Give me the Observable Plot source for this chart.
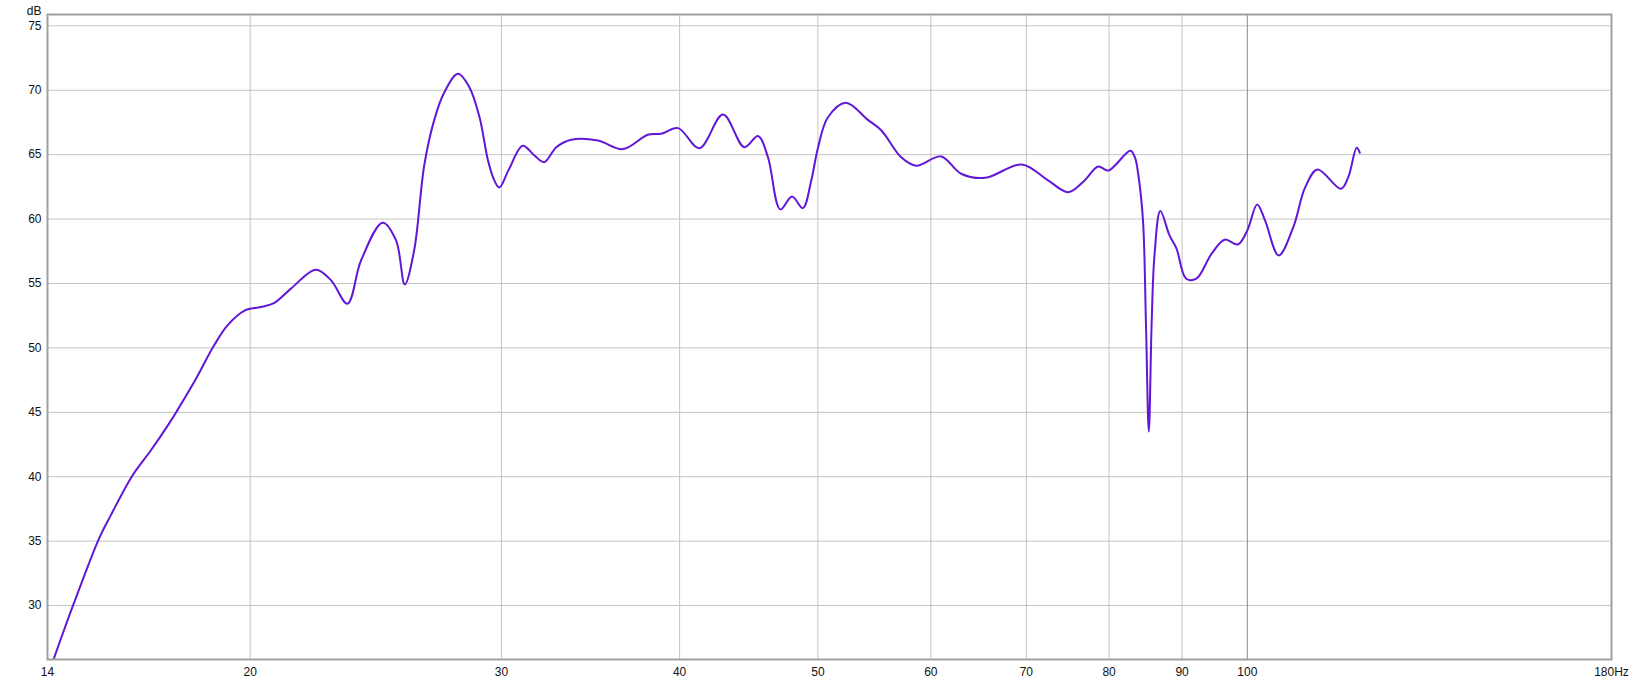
<!DOCTYPE html>
<html><head><meta charset="utf-8">
<script src="https://cdn.jsdelivr.net/npm/d3@7"></script>
<script src="https://cdn.jsdelivr.net/npm/@observablehq/plot@0.6"></script>
<style>body{margin:0;background:#fff;} svg{display:block;}</style>
</head><body><div id="chart"></div>
<script>
const freqHz = [14.56,14.81,15.05,15.67,15.97,16.54,17.04,17.54,17.78,18.27,18.87,19.28,19.82,20.35,20.8,21.36,22.24,22.79,23.4,23.92,24.77,25.31,25.67,26.06,26.49,26.92,27.35,27.97,28.49,28.96,29.36,29.66,29.9,30.35,31.05,31.64,32.15,32.78,33.58,35.06,36.49,38.0,38.82,39.9,41.3,42.9,44.4,45.4,46.13,47.06,47.96,48.8,49.47,50.0,50.82,52.3,54.2,55.4,57.2,58.6,61.0,63.0,65.5,69.5,72.5,74.9,76.9,78.6,79.9,82.8,83.4,83.85,84.5,84.9,85.3,85.7,86.1,86.9,88.2,89.2,90.6,92.1,94.4,96.4,98.5,100,101.6,102.9,105.2,107.7,109.8,112.0,116.3,117.7,119.3,119.9];
const splDb = [25.8,28.1,30.2,35.2,37.0,40.1,42.05,44.1,45.15,47.35,50.2,51.75,52.9,53.17,53.5,54.6,56.07,55.24,53.43,56.79,59.72,58.34,54.93,57.57,64.2,67.7,69.8,71.28,70.24,67.9,64.55,63.0,62.45,63.8,65.69,64.94,64.42,65.58,66.16,66.1,65.43,66.54,66.62,67.06,65.5,68.12,65.58,66.44,64.8,60.75,61.76,60.85,63.0,65.5,67.9,69.03,67.7,66.88,64.8,64.14,64.86,63.52,63.2,64.24,63.0,62.09,63.0,64.08,63.77,65.3,64.8,63.5,59.9,52.1,43.5,52.1,57.3,60.62,58.73,57.7,55.37,55.37,57.31,58.4,58.03,59.12,61.14,59.9,57.18,59.38,62.48,63.85,62.35,63.26,65.53,65.15];
const xGrid = [20,30,40,50,60,70,80,90];
const xMajor = [100];
const yTicks = [30,35,40,45,50,55,60,65,70,75];
const xTickValues = [14.42,20,30,40,50,60,70,80,90,100,180];
const xTickLabels = ["14","20","30","40","50","60","70","80","90","100","180Hz"];
const yUnit = ["dB"];

const data = freqHz.map((f, i) => ({f, db: splDb[i]}));
const labelOf = new Map(xTickValues.map((v, i) => [v, xTickLabels[i]]));

const chart = Plot.plot({
  width: 1633, height: 680,
  marginLeft: 47, marginRight: 22, marginTop: 14, marginBottom: 21,
  style: {fontFamily: "'Liberation Sans', Arial, sans-serif", fontSize: "12px", color: "#111", background: "#fff"},
  x: {type: "log", domain: [14.42, 180]},
  y: {domain: [25.81, 75.88]},
  marks: [
    Plot.ruleY(yTicks, {stroke: "#c4c4c4", strokeWidth: 1}),
    Plot.ruleX(xGrid, {stroke: "#c4c4c4", strokeWidth: 1}),
    Plot.ruleX(xMajor, {stroke: "#8a8a8a", strokeWidth: 1}),
    Plot.line(data, {x: "f", y: "db", stroke: "#6216d6", strokeWidth: 2, curve: "catmull-rom", clip: true}),
    Plot.frame({stroke: "#a0a0a0", strokeWidth: 2}),
    Plot.axisY(yTicks, {tickSize: 0, tickPadding: 6, label: null}),
    Plot.axisX(xTickValues, {tickSize: 0, tickPadding: 8, label: null, tickFormat: d => labelOf.get(d)}),
    Plot.text(yUnit, {text: d => d, frameAnchor: "top-left", dx: -6, dy: -8, textAnchor: "end"})
  ]
});
document.getElementById("chart").appendChild(chart);
</script>
</body></html>
